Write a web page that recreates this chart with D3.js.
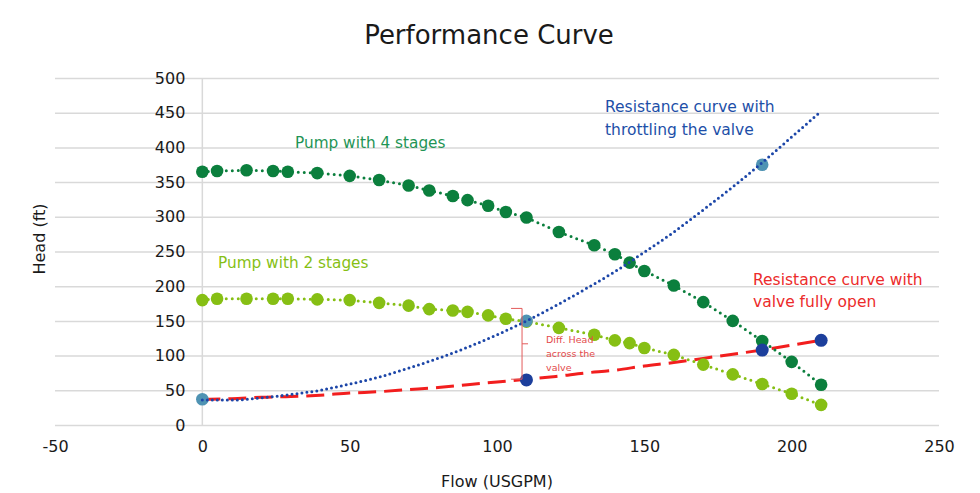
<!DOCTYPE html>
<html>
<head>
<meta charset="utf-8">
<script src="https://cdn.jsdelivr.net/npm/d3@7"></script>
<style>
  html, body { margin: 0; padding: 0; background: #fff; }
  svg { display: block; font-family: "DejaVu Sans", Verdana, sans-serif; }
</style>
</head>
<body>
<svg id="chart" width="980" height="493"></svg>
<script>
// ---- Data ----
const pumpFlow = [0, 5, 15, 24, 29, 39, 50, 60, 70, 77, 85, 90, 97, 103, 110, 121, 133, 140, 145, 150, 160, 170, 180, 190, 200, 210];
const pump4Head = [365, 366, 367, 366, 365, 363, 359, 353, 345, 338, 330, 324, 316, 307, 299, 278, 259, 246, 234, 222, 201, 177, 150, 121, 91, 58];
const pump2Head = [180, 182, 182, 182, 182, 181, 180, 176, 172, 167, 165, 163, 158, 153, 149, 140, 130, 122, 118, 111, 101, 87, 73, 59, 45, 29];

const curveFlow = [0, 10, 20, 30, 40, 50, 60, 70, 80, 90, 100, 110, 120, 130, 140, 150, 160, 170, 180, 190, 200, 210];
const throttledHead = [36, 36, 39, 44, 50, 59, 69, 82, 96, 112, 130, 150, 172, 196, 221, 249, 278, 310, 343, 378, 415, 452];
const openHead = [37, 38, 40, 41, 43, 46, 48, 51, 54, 58, 62, 66, 70, 75, 79, 85, 90, 96, 102, 108, 115, 122];

const throttledPtFlow = [0, 110, 190];
const throttledPtHead = [37, 150, 375];
const openPtFlow = [110, 190, 210];
const openPtHead = [65, 108, 122];

const xTicks = [-50, 0, 50, 100, 150, 200, 250];
const yTicks = [0, 50, 100, 150, 200, 250, 300, 350, 400, 450, 500];

const diffHeadTop = 168, diffHeadBottom = 66, diffHeadFlow = 108.5;

// ---- Chart ----
const svg = d3.select("#chart");
const x = d3.scaleLinear().domain([-50, 250]).range([55, 939]);
const y = d3.scaleLinear().domain([0, 500]).range([425, 78]);

// gridlines
svg.append("g")
  .attr("transform", `translate(${x(-50)},0)`)
  .call(d3.axisLeft(y).tickValues(yTicks).tickSize(-(x(250) - x(-50))).tickFormat(""))
  .call(g => g.select(".domain").remove())
  .call(g => g.selectAll("line").attr("stroke", "#d9d9d9").attr("stroke-width", 1.5));

// vertical axis line at x=0
svg.append("line")
  .attr("x1", x(0)).attr("x2", x(0)).attr("y1", y(0)).attr("y2", y(500))
  .attr("stroke", "#d9d9d9").attr("stroke-width", 1.5);

// y axis labels
svg.append("g")
  .attr("transform", `translate(${x(0)},0)`)
  .call(d3.axisLeft(y).tickValues(yTicks).tickSize(0).tickPadding(17).tickFormat(d => String(d)))
  .call(g => g.select(".domain").remove())
  .call(g => g.selectAll("text").attr("font-size", 16).attr("fill", "#1a1a1a")
      .attr("font-family", "DejaVu Sans, sans-serif"));

// x axis labels
svg.append("g")
  .attr("transform", `translate(0,${y(0)})`)
  .call(d3.axisBottom(x).tickValues(xTicks).tickSize(0).tickPadding(16).tickFormat(d => String(d)))
  .call(g => g.select(".domain").remove())
  .call(g => g.selectAll("text").attr("font-size", 16).attr("fill", "#1a1a1a")
      .attr("font-family", "DejaVu Sans, sans-serif"));

// titles
svg.append("text").attr("x", 489).attr("y", 44).attr("text-anchor", "middle")
  .attr("font-size", 26).attr("fill", "#1a1a1a").text("Performance Curve");
svg.append("text").attr("x", 497).attr("y", 487).attr("text-anchor", "middle")
  .attr("font-size", 16).attr("fill", "#1a1a1a").text("Flow (USGPM)");
svg.append("text").attr("transform", "translate(45,239) rotate(-90)").attr("text-anchor", "middle")
  .attr("font-size", 16).attr("fill", "#1a1a1a").text("Head (ft)");

const line = d3.line().x(d => x(d[0])).y(d => y(d[1]));
const curveLine = d3.line().curve(d3.curveMonotoneX).x(d => x(d[0])).y(d => y(d[1]));

const p4 = pumpFlow.map((f, i) => [f, pump4Head[i]]);
const p2 = pumpFlow.map((f, i) => [f, pump2Head[i]]);
const thr = curveFlow.map((f, i) => [f, throttledHead[i]]);
const opn = curveFlow.map((f, i) => [f, openHead[i]]);

// red dashed (fully open)
svg.append("path").attr("d", curveLine(opn)).attr("fill", "none")
  .attr("stroke", "#f21e1e").attr("stroke-width", 3).attr("stroke-dasharray", "18,8");

// pump lines
svg.append("path").attr("d", line(p4)).attr("fill", "none")
  .attr("stroke", "#0b7f3d").attr("stroke-width", 3).attr("stroke-linecap", "round").attr("stroke-dasharray", "0,6");
svg.append("path").attr("d", line(p2)).attr("fill", "none")
  .attr("stroke", "#86bf14").attr("stroke-width", 3).attr("stroke-linecap", "round").attr("stroke-dasharray", "0,6");

// pump markers
svg.append("g").selectAll("circle").data(p4).join("circle")
  .attr("cx", d => x(d[0])).attr("cy", d => y(d[1])).attr("r", 6.3).attr("fill", "#0b7f3d");
svg.append("g").selectAll("circle").data(p2).join("circle")
  .attr("cx", d => x(d[0])).attr("cy", d => y(d[1])).attr("r", 6.3).attr("fill", "#86bf14");

// throttled markers (teal)
svg.append("g").selectAll("circle").data(throttledPtFlow.map((f, i) => [f, throttledPtHead[i]])).join("circle")
  .attr("cx", d => x(d[0])).attr("cy", d => y(d[1])).attr("r", 6.3).attr("fill", "#4f93b3");

// blue dotted (throttled)
svg.append("path").attr("d", curveLine(thr)).attr("fill", "none")
  .attr("stroke", "#1c46a8").attr("stroke-width", 3).attr("stroke-linecap", "round").attr("stroke-dasharray", "0,5");

// open markers (dark blue)
svg.append("g").selectAll("circle").data(openPtFlow.map((f, i) => [f, openPtHead[i]])).join("circle")
  .attr("cx", d => x(d[0])).attr("cy", d => y(d[1])).attr("r", 6.5).attr("fill", "#1c3f9c");

// brace annotation
const bx = x(diffHeadFlow), bt = y(diffHeadTop), bb = y(diffHeadBottom), bm = (bt + bb) / 2;
svg.append("path")
  .attr("d", `M${bx - 11},${bt} L${bx},${bt} L${bx},${bb} L${bx - 11},${bb} M${bx},${bm} L${bx + 6},${bm}`)
  .attr("fill", "none").attr("stroke", "#e35b5b").attr("stroke-width", 1);
const ann = svg.append("text").attr("font-size", 9.5).attr("fill", "#e34a4a");
["Diff. Head", "across the", "valve"].forEach((t, i) =>
  ann.append("tspan").attr("x", bx + 24).attr("y", 343 + i * 14).text(t));

// series labels
svg.append("text").attr("x", 295).attr("y", 148).attr("font-size", 15.3).attr("fill", "#1f9455").text("Pump with 4 stages");
svg.append("text").attr("x", 218).attr("y", 268).attr("font-size", 15.3).attr("fill", "#86bf14").text("Pump with 2 stages");
const tb = svg.append("text").attr("font-size", 15.5).attr("fill", "#1d4fa8");
tb.append("tspan").attr("x", 605).attr("y", 112).text("Resistance curve with");
tb.append("tspan").attr("x", 605).attr("y", 135).text("throttling the valve");
const tr = svg.append("text").attr("font-size", 15.5).attr("fill", "#ec2b2b");
tr.append("tspan").attr("x", 753).attr("y", 285).text("Resistance curve with");
tr.append("tspan").attr("x", 753).attr("y", 307).text("valve fully open");
</script>
</body>
</html>
